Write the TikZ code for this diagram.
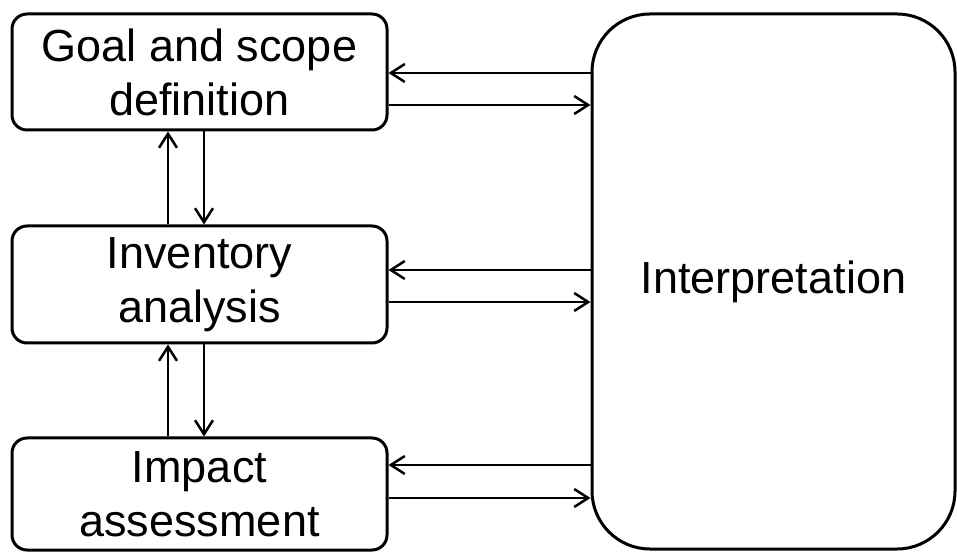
\documentclass[tikz,border=0pt]{standalone}
\usepackage{fontspec}
\setmainfont{Liberation Sans}
\usetikzlibrary{arrows.meta,positioning}

\begin{document}
\begin{tikzpicture}[x=1pt,y=1pt,
  stagebox/.style={draw,line width=3pt,rounded corners=15pt,minimum width=375pt,
    align=center,inner sep=0pt,font=\fontsize{45}{54}\selectfont},
  arr/.style={line width=2.5pt,-{Straight Barb[length=14pt,width=18pt,line width=2.5pt]}}]
  \useasboundingbox (0,0) rectangle (957,551);
  \node[stagebox,minimum height=116pt] (goal) at (199.5,479) {Goal and scope\\definition};
  \node[stagebox,minimum height=117pt] (inv) at (199.5,266.5) {Inventory\\analysis};
  \node[stagebox,minimum height=112pt] (impact) at (199.5,57) {Impact\\assessment};
  \node[draw,line width=3pt,rounded corners=58pt,minimum width=363pt,minimum height=535pt,
    inner sep=0pt,font=\fontsize{45}{54}\selectfont] (interp) at (773.5,269.5) {Interpretation};
  % left column
  \draw[arr] (inv.north -| 168,0) -- (goal.south -| 168,0);
  \draw[arr] (goal.south -| 204,0) -- (inv.north -| 204,0);
  \draw[arr] (impact.north -| 168,0) -- (inv.south -| 168,0);
  \draw[arr] (inv.south -| 204,0) -- (impact.north -| 204,0);
  % to and from interpretation
  \draw[arr] (interp.west |- 0,478) -- (goal.east |- 0,478);
  \draw[arr] (goal.east |- 0,446) -- (interp.west |- 0,446);
  \draw[arr] (interp.west |- 0,281) -- (inv.east |- 0,281);
  \draw[arr] (inv.east |- 0,249) -- (interp.west |- 0,249);
  \draw[arr] (interp.west |- 0,86) -- (impact.east |- 0,86);
  \draw[arr] (impact.east |- 0,53) -- (interp.west |- 0,53);
\end{tikzpicture}
\end{document}
